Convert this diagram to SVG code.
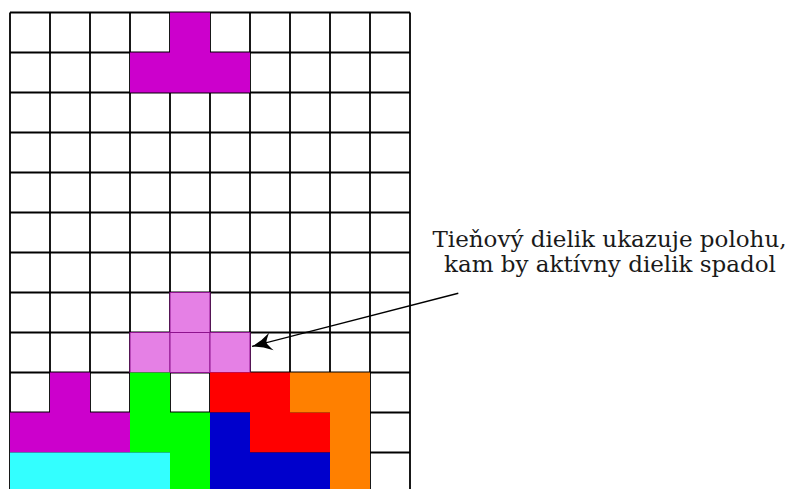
<svg xmlns="http://www.w3.org/2000/svg" width="788" height="489" viewBox="0 0 788 489">
<style>
.grid{fill:none;stroke:#000;stroke-width:1.8}
.label{font-family:"DejaVu Serif",serif;font-size:23px;fill:#1a1a1a;text-anchor:middle}
.ghost{fill:#E580E5;stroke:#8E128E;stroke-width:1}
.arrow{fill:none;stroke:#000;stroke-width:1.4}
</style>
<defs>
<marker id="head" viewBox="-1 -10 22 20" markerWidth="22" markerHeight="20" refX="20" refY="0" orient="auto" markerUnits="userSpaceOnUse">
<path d="M20,0 Q10,2.5 0,9 Q5,2 5,0 Q5,-2 0,-9 Q10,-2.5 20,0 Z" fill="#000"/>
</marker>
</defs>
<rect width="788" height="489" fill="#fff"/>
<g id="board">
<path class="grid" d="M10,12.5V495M50,12.5V495M90,12.5V495M130,12.5V495M170,12.5V495M210,12.5V495M250,12.5V495M290,12.5V495M330,12.5V495M370,12.5V495M410,12.5V495M10,12.5H410M10,52.5H410M10,92.5H410M10,132.5H410M10,172.5H410M10,212.5H410M10,252.5H410M10,292.5H410M10,332.5H410M10,372.5H410M10,412.5H410M10,452.5H410"/>
</g>
<g id="active-piece">
<path d="M170,12.5H210V52.5H250V92.5H130V52.5H170Z" fill="#CC00CC"/>
</g>
<g id="ghost-piece">
<rect class="ghost" x="170" y="292.5" width="40" height="40"/>
<rect class="ghost" x="130" y="332.5" width="40" height="40"/>
<rect class="ghost" x="170" y="332.5" width="40" height="40"/>
<rect class="ghost" x="210" y="332.5" width="40" height="40"/>
</g>
<g id="stack">
<path d="M50,372.5H90V412.5H130V452.5H10V412.5H50Z" fill="#CC00CC"/>
<path d="M130,372.5H170V412.5H210V492.5H170V452.5H130Z" fill="#00FF00"/>
<path d="M210,372.5H290V412.5H330V452.5H250V412.5H210Z" fill="#FF0000"/>
<path d="M290,372.5H370V492.5H330V412.5H290Z" fill="#FF8000"/>
<path d="M210,412.5H250V452.5H330V492.5H210Z" fill="#0000CC"/>
<path d="M10,452.5H170V492.5H10Z" fill="#33FFFF"/>
</g>
<g id="label">
<text class="label" x="609.5" y="246.7">Tieňový dielik ukazuje polohu,</text>
<text class="label" x="610" y="272">kam by aktívny dielik spadol</text>
</g>
<g id="connectors">
<path class="arrow" d="M458.3,293.3L252,346.4" marker-end="url(#head)"/>
</g>
</svg>
